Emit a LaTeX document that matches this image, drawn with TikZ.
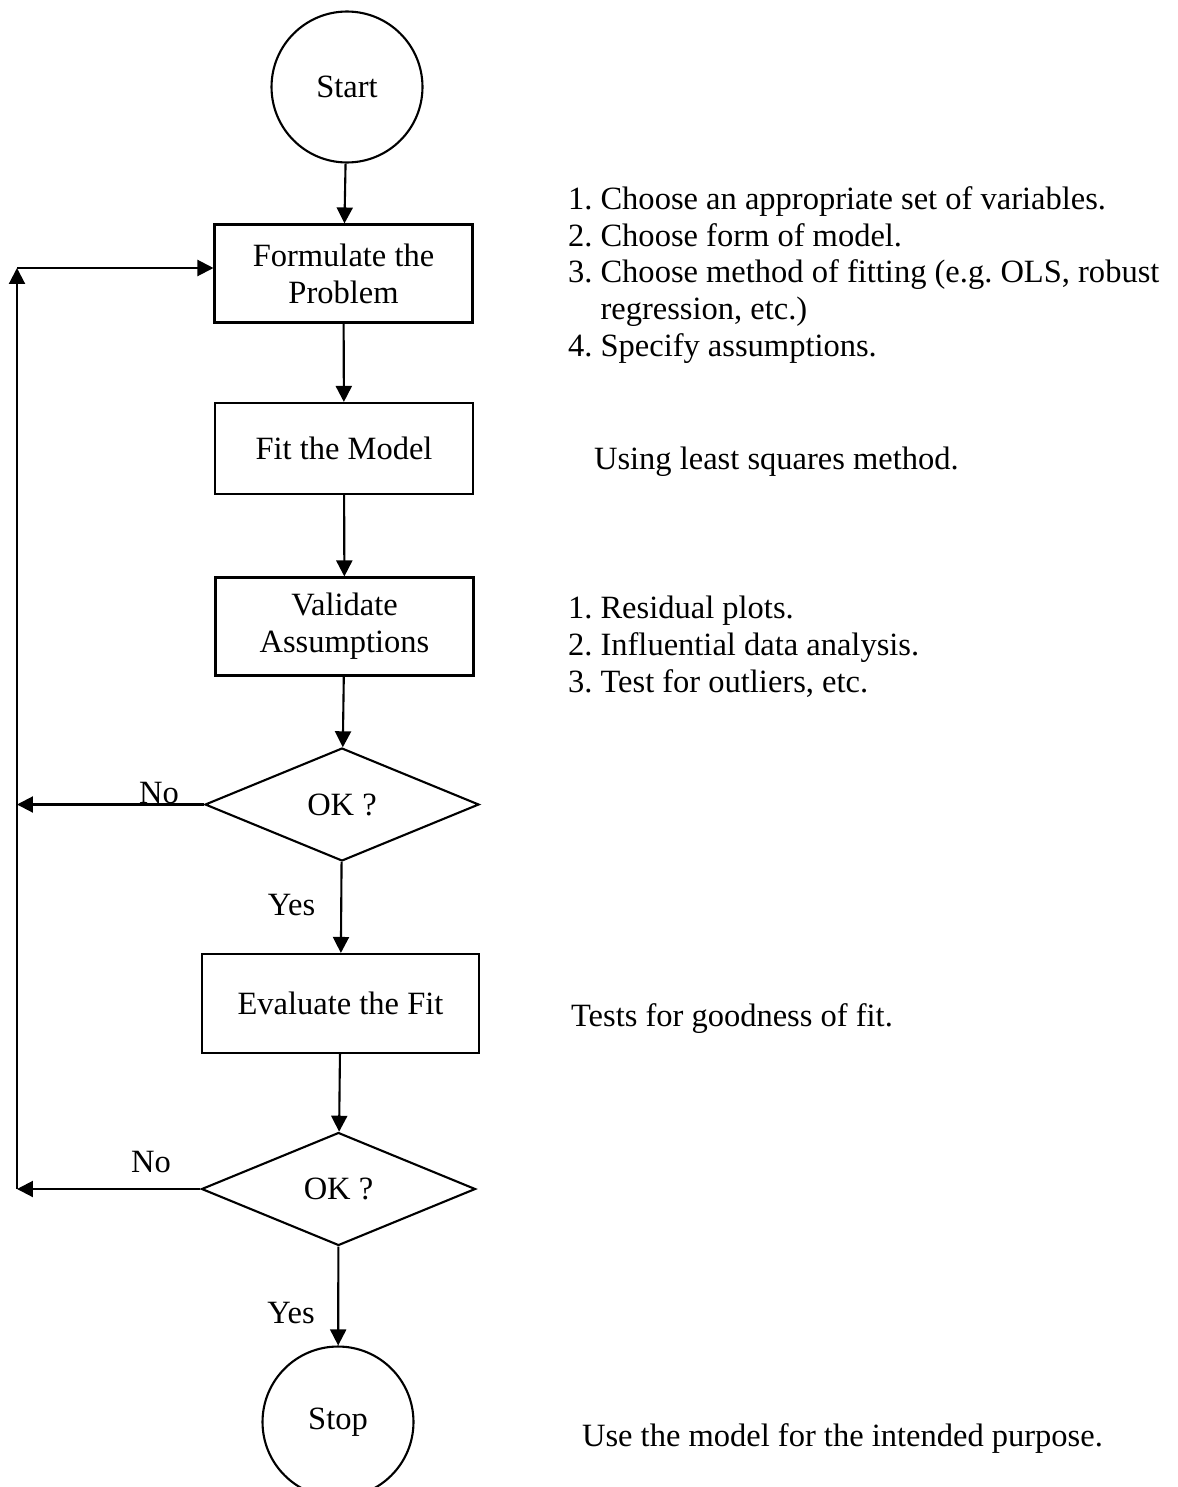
\documentclass[tikz,border=0pt]{standalone}
\usepackage{fontspec}
\setmainfont{Liberation Serif}
\usetikzlibrary{shapes.geometric,arrows.meta}
\begin{document}
\begin{tikzpicture}[x=0.02cm,y=-0.02cm,line width=1.2pt,font=\fontsize{18.5}{21}\selectfont\frenchspacing]

                \tikzset{term/.style = {shape=circle,draw,minimum size=3.02cm,inner sep=0pt}}
                \tikzset{stepbox/.style = {shape=rectangle,draw,minimum width=5.16cm,minimum height=1.96cm,align=center,inner sep=0pt}}
                \tikzset{test/.style = {shape=diamond,draw,minimum width=5.48cm,minimum height=2.26cm,inner sep=0pt}}
                \tikzset{edge/.style = {-{Triangle[length=0.32cm,width=0.32cm]}}}
                \tikzset{note/.style = {anchor=west,align=left,inner sep=0pt}}
                \clip (0,0) rectangle (1177,1487);
                \node[term] (start) at (347,87) {Start};
                \node[stepbox] (form) at (343.5,273.5) {Formulate the\\Problem};
                \node[stepbox,minimum height=1.82cm] (fit) at (344,448.5) {Fit the Model};
                \node[stepbox] (valid) at (344.5,626.5) {Validate\\Assumptions};
                \node[test] (ok1) at (342,804.5) {OK ?};
                \node[stepbox,minimum width=5.54cm,minimum height=1.98cm] (eval) at (340.5,1003.5) {Evaluate the Fit};
                \node[test] (ok2) at (338.5,1189) {OK ?};
                \node[term] (stop) at (338,1422) {Stop};
                \coordinate (loopbot) at (17,1189);
                \coordinate (looptop) at (17,268);
                \draw[edge] (start) -- (form);
                \draw[edge] (form) -- (fit);
                \draw[edge] (fit) -- (valid);
                \draw[edge] (valid) -- (ok1);
                \draw[edge] (ok1) -- node[pos=0.47,left=0.5cm,inner sep=0pt] {Yes} (eval);
                \draw[edge] (eval) -- (ok2);
                \draw[edge] (ok2) -- node[pos=0.67,left=0.45cm,inner sep=0pt] {Yes} (stop);
                \draw[edge] (ok1.west) -- node[pos=0.24,above=0pt,inner sep=0pt] {No} (ok1.west -| loopbot);
                \draw[edge] (ok2.west) -- node[pos=0.27,above=0.3cm,inner sep=0pt] {No} (loopbot);
                \draw[edge] (loopbot) -- (looptop);
                \draw[edge] (looptop) -- (looptop -| form.west);
                \node[note] (steps) at (567,275) {1. Choose an appropriate set of variables.\\2. Choose form of model.\\3. Choose method of fitting (e.g. OLS, robust\\\phantom{3.\ }regression, etc.)\\4. Specify assumptions.};
                \node[note] (lsq) at (593,462) {Using least squares method.};
                \node[note] (checks) at (567,647) {1. Residual plots.\\2. Influential data analysis.\\3. Test for outliers, etc.};
                \node[note] (gof) at (570,1019) {Tests for goodness of fit.};
                \node[note] (use) at (581,1438) {Use the model for the intended purpose.};
            \end{tikzpicture}
\end{document}
